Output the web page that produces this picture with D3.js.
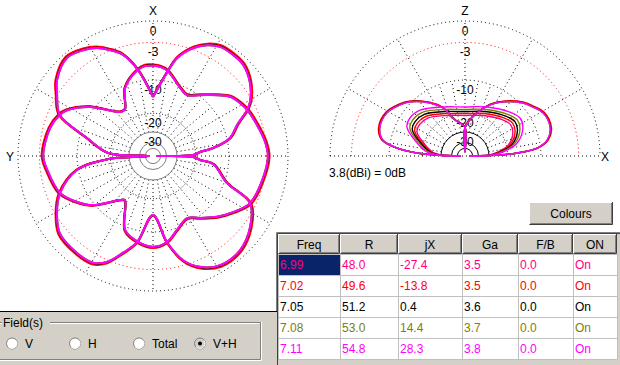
<!DOCTYPE html>
<html><head><meta charset="utf-8">
<script src="https://cdn.jsdelivr.net/npm/d3@7"></script>
<style>
html,body{margin:0;padding:0;background:#fff;}
svg{display:block;font-family:"Liberation Sans",Arial,sans-serif;}
</style></head><body>
<svg id="c" width="620" height="365"></svg>
<script>
// ---------------- data ----------------
const freqs  = ["6.99","7.02","7.05","7.08","7.11"];
const colR   = ["48.0","49.6","51.2","53.0","54.8"];
const colJX  = ["-27.4","-13.8","0.4","14.4","28.3"];
const colGa  = ["3.5","3.5","3.6","3.7","3.8"];
const colFB  = ["0.0","0.0","0.0","0.0","0.0"];
const colOn  = ["On","On","On","On","On"];
const headers = ["Freq","R","jX","Ga","F/B","ON"];
const seriesColors = ["#ff0080","#ff0000","#000000","#808000","#ff00ff"];
const refText = "3.8(dBi) = 0dB";
const ringDb = [0,-3,-10,-20,-30,-40,-50];
const ringLabelDb = [0,-3,-10,-20,-30];
const ringLabels = ["0","-3","-10","-20","-30"];
const fieldOptions = ["V","H","Total","V+H"];
const fieldSelected = "V+H";

// azimuth plane (angle clockwise from X/up, dB) - component A
const azAAngle = [0,5.1,10,21.7,29.1,37.6,46.4,52.5,58.6,63.9,73.4,82.9,90,100.8,115.9,125,133.6,142.8,151.3,162,170.8,180,189.9,200.7,212.5,216.9,230.8,238.8,248.3,262.5,270,285.2,293.8,298.1,307.9,323.1,328.7,337.6,349.3,354.9,360];
const azADb    = [-7.0,-7.2,-7.8,-10.6,-11.5,-9.8,-7.4,-5.7,-4.9,-4.4,-3.8,-3.1,-2.8,-3.2,-3.9,-5.6,-7.4,-9.6,-11.2,-9.6,-7.6,-6.9,-7.6,-9.3,-16.5,-15.6,-9.6,-7.3,-5.2,-4.1,-3.6,-4.1,-4.9,-5.7,-9.1,-15.6,-15.9,-10.6,-7.7,-7.0,-7.0];
// azimuth plane - component B
const azBAngle = [0,10,13.8,20.3,25.9,31.6,38.4,44.7,52.7,60.9,63.9,69.7,76.8,82.4,85.1,88.6,90,91.4,94.9,97.6,110,115.9,126.2,137.2,148.4,157.1,163.9,170.8,180,190.5,197.2,203.5,209.3,218.1,230.4,239.3,248.3,259.6,266,270,274,285.3,293.8,302.4,308.4,318.7,326.6,332.6,337.9,343.5,350.1,360];
const azBDb    = [-14.4,-7.8,-5.1,-2.8,-1.6,-0.9,-0.8,-0.9,-1.8,-3.4,-4.4,-7.1,-9.3,-13.9,-18.3,-21.1,-60,-21.1,-18.3,-13.9,-9.4,-3.9,-2.0,-0.9,-0.9,-2.0,-3.8,-7.6,-14.4,-7.5,-5.0,-2.7,-1.7,-1.6,-1.9,-3.3,-5.2,-9.7,-19.1,-60,-19.1,-11.8,-4.9,-3.0,-1.7,-0.6,-1.1,-1.8,-2.9,-4.3,-7.6,-14.4];
// elevation plane (elevation angle from X/right, dB) - component 1
const el1Angle = [0,1.6,3.3,6.3,11,18.2,28.9,35.8,42.4,54.9,63.9,74.4,89.5,90,90.5,105.5,114.6,123.4,135.5,141.9,151.1,161.8,169,173.3,176.4,178,180];
const el1Db    = [-60,-23.4,-16.5,-10.8,-8.3,-7.1,-7.2,-8.3,-9.4,-12.4,-15.0,-19.2,-26.7,-60,-26.7,-22.3,-16.3,-13.1,-9.7,-8.5,-7.2,-7.1,-8.3,-11.8,-17.9,-27.3,-60];
// elevation plane - component 2
const el2Angle = [0,1,6,14,25.8,34.6,44.4,65.8,90,114.2,134.4,145.4,153.4,164.8,174,179,180];
const el2Db    = [-60,-29.3,-21.9,-16.0,-12.9,-12.2,-13.3,-16.0,-17.6,-16.0,-12.9,-12.2,-12.7,-17.4,-21.9,-29.3,-60];
// per-frequency level shifts (dB)
const azShift  = [0.15,0.25,0.05,0,0];
const el1Shift = [0.15,0.25,0.05,0,0];
const el2Shift = [-3.3,-2.5,-1.7,-0.9,0];

// ---------------- scales ----------------
const svg = d3.select("#c");
const R0 = 135;
const dbScale = d3.scaleLog().domain([R0/10, R0]).range([-40, 0]); // radius -> dB
const rad = db => dbScale.invert(Math.max(db, -60));
const angAz = d3.scaleLinear().domain([0,360]).range([0, 2*Math.PI]);
const angEl = d3.scaleLinear().domain([0,180]).range([Math.PI/2, -Math.PI/2]);

const FONT = 12;

// ---------------- left polar (azimuth) ----------------
const g1 = svg.append("g").attr("transform","translate(153,156)");
d3.range(0,360,10).forEach(a=>{
  const long = a % 30 === 0;
  const r1 = rad(-30), r2 = long ? rad(0) : rad(-10);
  const t = angAz(a);
  g1.append("line").attr("x1",r1*Math.sin(t)).attr("y1",-r1*Math.cos(t))
    .attr("x2",r2*Math.sin(t)).attr("y2",-r2*Math.cos(t))
    .attr("stroke","#000").attr("stroke-width",1).attr("stroke-dasharray","1 3");
});
ringDb.forEach(db=>{
  const solid = db <= -30;
  g1.append("circle").attr("r",rad(db)).attr("fill", "none")
    .attr("stroke", db===-3 ? "#ff0000" : (solid ? "#808080" : "#000"))
    .attr("stroke-width",1)
    .attr("stroke-dasharray", solid ? null : (db===-20 ? "1 2" : "1 3"));
});
ringLabelDb.forEach((db,i)=>{
  g1.append("text").attr("x",0).attr("y",-rad(db)+14).attr("text-anchor","middle")
    .attr("font-size",FONT).text(ringLabels[i]);
});
svg.append("text").attr("x",153).attr("y",15).attr("text-anchor","middle").attr("font-size",FONT).text("X");
svg.append("text").attr("x",10).attr("y",161).attr("text-anchor","middle").attr("font-size",FONT).text("Y");

const lineAz = d3.lineRadial().angle(d=>angAz(d[0])).radius(d=>rad(d[1])).curve(d3.curveCatmullRom.alpha(0.5));
freqs.forEach((f,i)=>{
  [[azAAngle,azADb],[azBAngle,azBDb]].forEach(([A,D])=>{
    const pts = A.map((a,k)=>[a, D[k] <= -60 ? D[k] : D[k]+azShift[i]]);
    g1.append("path").attr("d",lineAz(pts)).attr("fill","none")
      .attr("stroke",seriesColors[i]).attr("stroke-width",2).attr("stroke-linejoin","round");
  });
});

// ---------------- right polar (elevation) ----------------
const g2 = svg.append("g").attr("transform","translate(465,156)");
d3.range(10,180,10).forEach(a=>{
  const long = a % 30 === 0;
  const r1 = rad(-30), r2 = long ? rad(0) : rad(-10);
  const t = angEl(a);
  g2.append("line").attr("x1",r1*Math.sin(t)).attr("y1",-r1*Math.cos(t))
    .attr("x2",r2*Math.sin(t)).attr("y2",-r2*Math.cos(t))
    .attr("stroke","#000").attr("stroke-width",1).attr("stroke-dasharray","1 3");
});
g2.append("line").attr("x1",-rad(0)).attr("x2",rad(0)).attr("y1",0).attr("y2",0)
  .attr("stroke","#000").attr("stroke-dasharray","1 3");
ringDb.forEach(db=>{
  const solid = db <= -30;
  const p = d3.path(); p.arc(0,0,rad(db),Math.PI,2*Math.PI);
  g2.append("path").attr("d",p.toString()).attr("fill","none")
    .attr("stroke", db===-3 ? "#ff0000" : "#000").attr("stroke-width",1)
    .attr("stroke-dasharray", solid ? null : (db===-20 ? "1 2" : "1 3"));
});
ringLabelDb.forEach((db,i)=>{
  g2.append("text").attr("x",0).attr("y",-rad(db)+14).attr("text-anchor","middle")
    .attr("font-size",FONT).text(ringLabels[i]);
});
svg.append("text").attr("x",465).attr("y",15).attr("text-anchor","middle").attr("font-size",FONT).text("Z");
svg.append("text").attr("x",605).attr("y",161).attr("text-anchor","middle").attr("font-size",FONT).text("X");
svg.append("text").attr("x",329).attr("y",177).attr("font-size",FONT).text(refText);

const lineEl = d3.lineRadial().angle(d=>angEl(d[0])).radius(d=>rad(d[1])).curve(d3.curveCatmullRom.alpha(0.5));
freqs.forEach((f,i)=>{
  [[el1Angle,el1Db,el1Shift],[el2Angle,el2Db,el2Shift]].forEach(([A,D,S])=>{
    const pts = A.map((a,k)=>[a, D[k] <= -60 ? D[k] : D[k]+S[i]]);
    g2.append("path").attr("d",lineEl(pts)).attr("fill","none")
      .attr("stroke",seriesColors[i]).attr("stroke-width",1.4).attr("stroke-linejoin","round");
  });
});

// ---------------- Colours button ----------------
function bevel(g,x,y,w,h){
  g.append("rect").attr("x",x).attr("y",y).attr("width",w).attr("height",h).attr("fill","#d4d0c8");
  g.append("path").attr("d",`M${x+0.5},${y+h-1}V${y+0.5}H${x+w-1}`).attr("stroke","#fff").attr("fill","none");
  g.append("path").attr("d",`M${x+0.5},${y+h-0.5}H${x+w-0.5}V${y}`).attr("stroke","#404040").attr("fill","none");
  g.append("path").attr("d",`M${x+1.5},${y+h-1.5}H${x+w-1.5}V${y+1}`).attr("stroke","#808080").attr("fill","none");
}
bevel(svg,529,202,84,23);
svg.append("text").attr("x",571).attr("y",218).attr("text-anchor","middle").attr("font-size",FONT).text("Colours");

// ---------------- table ----------------
const colX = [278,340,398,462,518,573,617];
const headY = [234,254];
const rowY = [254,275,296,317,338,359];
const columns = [freqs,colR,colJX,colGa,colFB,colOn];
svg.append("rect").attr("x",276).attr("y",232).attr("width",344).attr("height",133).attr("fill","#d4d0c8");
svg.append("path").attr("d","M276.5,365V232.5H620").attr("stroke","#808080").attr("fill","none");
svg.append("path").attr("d","M277.5,365V233.5H620").attr("stroke","#404040").attr("fill","none");
svg.append("rect").attr("x",278).attr("y",254).attr("width",339).attr("height",105).attr("fill","#fff");
headers.forEach((h,j)=>{
  bevel(svg,colX[j],headY[0],colX[j+1]-colX[j],headY[1]-headY[0]);
  svg.append("text").attr("x",(colX[j]+colX[j+1])/2).attr("y",249).attr("text-anchor","middle")
    .attr("font-size",FONT).text(h);
});
svg.append("rect").attr("x",colX[0]).attr("y",rowY[0]).attr("width",colX[1]-colX[0]).attr("height",rowY[1]-rowY[0]).attr("fill","#0a246a");
rowY.forEach(y=>{
  svg.append("line").attr("x1",278).attr("x2",617).attr("y1",y+0.5).attr("y2",y+0.5).attr("stroke","#c0c0c0");
});
colX.forEach(x=>{
  svg.append("line").attr("x1",x+0.5).attr("x2",x+0.5).attr("y1",254).attr("y2",359).attr("stroke","#c0c0c0");
});
columns.forEach((col,j)=>{
  col.forEach((v,i)=>{
    svg.append("text").attr("x",colX[j]+2).attr("y",rowY[i]+15).attr("font-size",FONT)
      .attr("fill",seriesColors[i]).text(v);
  });
});

// ---------------- Field(s) panel ----------------
svg.append("rect").attr("x",0).attr("y",311).attr("width",277).attr("height",54).attr("fill","#d4d0c8");
svg.append("line").attr("x1",0).attr("x2",277).attr("y1",311.5).attr("y2",311.5).attr("stroke","#000");
svg.append("path").attr("d","M0,322.5H260.5V359.5H0").attr("fill","none").attr("stroke","#808080");
svg.append("path").attr("d","M0,323.5H259.5M261.5,322V360.5H0").attr("fill","none").attr("stroke","#fff");
svg.append("rect").attr("x",2).attr("y",316).attr("width",48).attr("height",12).attr("fill","#d4d0c8");
svg.append("text").attr("x",3).attr("y",327).attr("font-size",FONT).text("Field(s)");
const radioX = [12,75,139,200];
fieldOptions.forEach((o,i)=>{
  const cx = radioX[i], cy = 343.5;
  svg.append("circle").attr("cx",cx).attr("cy",cy).attr("r",5.5).attr("fill", o===fieldSelected ? "#d4d0c8" : "#fff")
    .attr("stroke","#808080");
  svg.append("path").attr("d",`M${cx-4},${cy+3} A5,5 0 0 0 ${cx+4},${cy-3}`).attr("stroke","#fff").attr("fill","none");
  if (o===fieldSelected) svg.append("circle").attr("cx",cx).attr("cy",cy).attr("r",2).attr("fill","#000");
  svg.append("text").attr("x",cx+13).attr("y",348).attr("font-size",FONT).text(o);
});
</script>
</body></html>
